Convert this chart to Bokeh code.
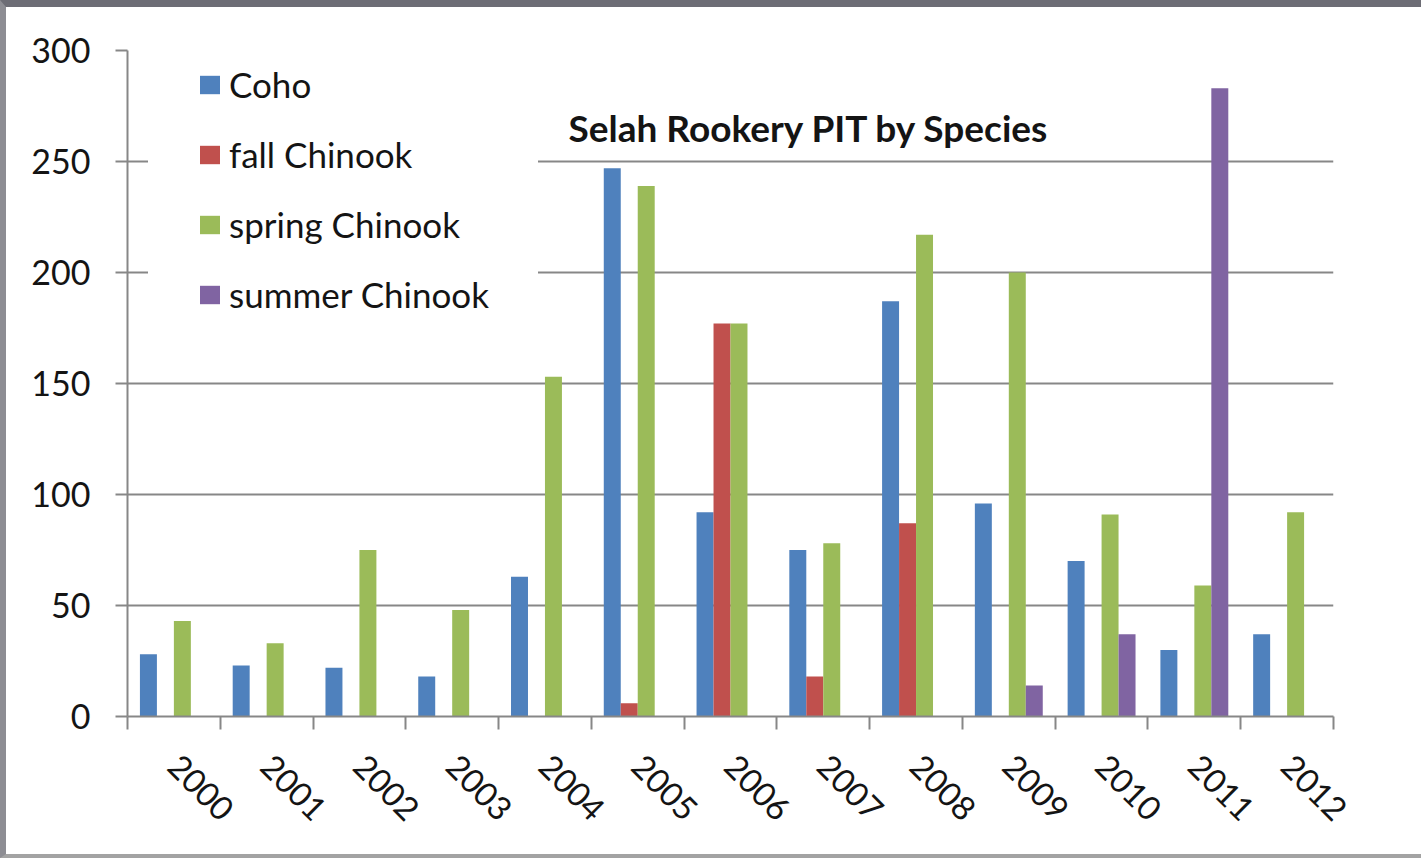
import math

from bokeh.plotting import figure
from bokeh.models import (ColumnDataSource, FixedTicker, Label, Legend,
                          LegendItem, Range1d)
from bokeh.embed import file_html
from bokeh.resources import INLINE

# PIT tags at Selah Rookery, per brood year and species
years = ["2000", "2001", "2002", "2003", "2004", "2005", "2006",
         "2007", "2008", "2009", "2010", "2011", "2012"]
coho = [28, 23, 22, 18, 63, 247, 92, 75, 187, 96, 70, 30, 37]
fall_chinook = [0, 0, 0, 0, 0, 6, 177, 18, 87, 0, 0, 0, 0]
spring_chinook = [43, 33, 75, 48, 153, 239, 177, 78, 217, 200, 91, 59, 92]
summer_chinook = [0, 0, 0, 0, 0, 0, 0, 0, 0, 14, 37, 283, 0]

series_names = ["Coho", "fall Chinook", "spring Chinook", "summer Chinook"]
series_values = [coho, fall_chinook, spring_chinook, summer_chinook]
series_colors = ["#4F81BD", "#C0504D", "#9BBB59", "#8064A2"]

y_ticks = [0, 50, 100, 150, 200, 250, 300]

FONT = "Lato"
TEXT = "#141414"
LINE = "#878787"

n = len(years)
centers = [i + 0.5 for i in range(n)]
bar_w = 0.183
offsets = [-1.5 * bar_w, -0.5 * bar_w, 0.5 * bar_w, 1.5 * bar_w]

p = figure(
    frame_width=1206, frame_height=666,
    min_border_left=121, min_border_right=88,
    min_border_top=43, min_border_bottom=138,
    x_range=Range1d(0, n), y_range=Range1d(0, 300),
    output_backend="svg", toolbar_location=None,
    background_fill_color="white", border_fill_color="white",
)
p.outline_line_color = None
p.styles = {
    "border-top": "7px solid #6d6d75",
    "border-left": "6px solid #8d8d93",
    "border-bottom": "4px solid #a3a3a3",
}

# bars, one slot per species inside each year
items = []
for name, vals, color, off in zip(series_names, series_values,
                                  series_colors, offsets):
    src = ColumnDataSource(dict(x=[c + off for c in centers], top=vals))
    r = p.vbar(x="x", top="top", bottom=0, width=bar_w, source=src,
               fill_color=color, line_color=None)
    items.append(LegendItem(label=name, renderers=[r]))

# x axis: boundary ticks as minor ticks, year labels on the centres
xa = p.xaxis[0]
xa.ticker = FixedTicker(ticks=centers, minor_ticks=list(range(n + 1)))
xa.major_label_overrides = {c: y for c, y in zip(centers, years)}
xa.major_label_orientation = -math.pi / 4
xa.major_tick_line_color = None
xa.major_tick_in = 0
xa.major_tick_out = 0
xa.minor_tick_line_color = LINE
xa.minor_tick_line_width = 2
xa.minor_tick_in = 0
xa.minor_tick_out = 13
xa.axis_line_color = LINE
xa.axis_line_width = 2
xa.major_label_text_font = FONT
xa.major_label_text_font_size = "33px"
xa.major_label_text_color = TEXT
xa.major_label_standoff = 31

ya = p.yaxis[0]
ya.ticker = FixedTicker(ticks=y_ticks, minor_ticks=[])
ya.major_tick_in = 0
ya.major_tick_out = 12
ya.major_tick_line_color = LINE
ya.major_tick_line_width = 2
ya.minor_tick_line_color = None
ya.axis_line_color = LINE
ya.axis_line_width = 2
ya.major_label_text_font = FONT
ya.major_label_text_font_size = "34px"
ya.major_label_text_color = TEXT
ya.major_label_standoff = 25

p.xgrid.grid_line_color = None
p.ygrid.ticker = FixedTicker(ticks=y_ticks, minor_ticks=[])
p.ygrid.grid_line_color = LINE
p.ygrid.grid_line_width = 2

# white legend box; an invisible border keeps its padding active
legend = Legend(
    items=items, location=(21, 351),
    padding=49, spacing=26, margin=0,
    glyph_width=25, glyph_height=23, label_standoff=7, label_height=44,
    label_text_font=FONT, label_text_font_size="35px",
    label_text_color=TEXT,
    background_fill_color="white", background_fill_alpha=1.0,
    border_line_color="white", border_line_alpha=0.0,
)
p.add_layout(legend)

title = Label(x=4.754, y=265.5, text="Selah Rookery PIT by Species",
              text_font=FONT, text_font_size="37px", text_font_style="bold",
              text_color=TEXT, text_baseline="alphabetic", text_align="left")
p.add_layout(title)

open("out.html", "w").write(file_html(p, INLINE))
